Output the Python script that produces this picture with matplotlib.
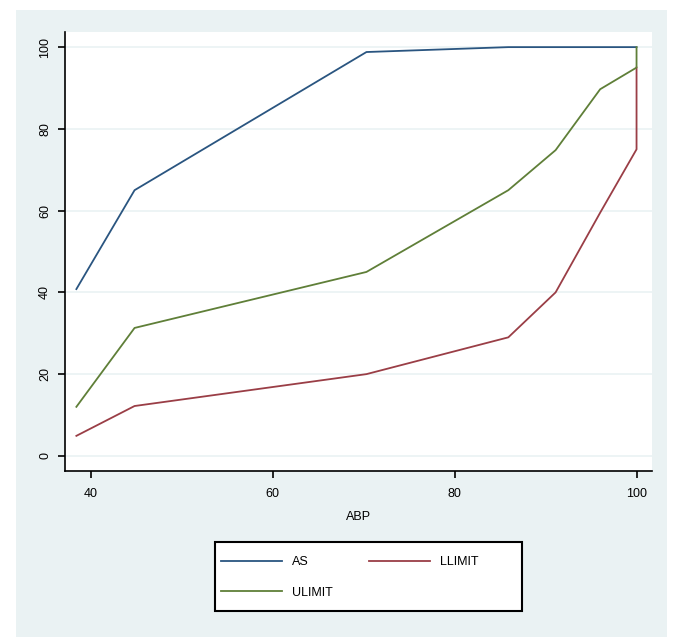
import matplotlib
matplotlib.use('Agg')
from matplotlib import pyplot
import matplotlib.patches as patches

pyplot.rcParams['font.family'] = ['Liberation Sans', 'DejaVu Sans']

# ABP values (x) and the three series
abp = [38.4, 44.8, 70.3, 85.9, 91.1, 96.0, 100, 100]
as_vals = [40.8, 65.0, 98.8, 100, 100, 100, 100, 100]
llimit = [4.9, 12.2, 20.0, 29.0, 40.0, 59.5, 75.0, 95.0]
ulimit = [12.0, 31.3, 45.0, 65.0, 74.8, 89.7, 95.0, 100]

x_ticks = [40, 60, 80, 100]
y_ticks = [0, 20, 40, 60, 80, 100]

bg = '#eaf2f3'
W, H = 673, 637
fig = pyplot.figure(figsize=(W/100, H/100), dpi=100)
fig.patch.set_facecolor('white')

# light panel behind the graph
back = fig.add_axes([16/W, 0, (667-16)/W, 1 - 10/H], zorder=-1)
back.set_facecolor(bg)
back.set_xticks([])
back.set_yticks([])
for s in back.spines.values():
    s.set_visible(False)

ax = fig.add_axes([65/W, 1 - 471/H, (652-65)/W, (471-32)/H], zorder=1)
ax.set_facecolor('white')

l_as, = ax.plot(abp, as_vals, color='#2a5580', linewidth=1.3, label='AS', zorder=3)
l_ll, = ax.plot(abp, llimit, color='#9a3e46', linewidth=1.3, label='LLIMIT', zorder=3)
l_ul, = ax.plot(abp, ulimit, color='#5f7f38', linewidth=1.3, label='ULIMIT', zorder=3)

ax.set_xlim(37.15, 101.7)
ax.set_ylim(-3.7, 103.7)
ax.set_xticks(x_ticks)
ax.set_yticks(y_ticks)
ax.grid(axis='y', color=bg, linewidth=1.2, zorder=1)
ax.set_axisbelow(True)

for s in ['top', 'right']:
    ax.spines[s].set_visible(False)
for s in ['left', 'bottom']:
    ax.spines[s].set_color('black')
    ax.spines[s].set_linewidth(1.2)

ax.tick_params(axis='both', direction='out', length=5, width=1.2, labelsize=9, colors='black')
ax.tick_params(axis='x', pad=7)
ax.tick_params(axis='y', pad=5)
pyplot.setp(ax.get_yticklabels(), rotation=90, va='center')

ax.set_xlabel('ABP', fontsize=9, labelpad=8)

# legend box drawn by hand so it can be wider than its entries
box = patches.Rectangle((215/W, 1 - 611/H), 307/W, 69/H, transform=fig.transFigure,
                        facecolor='white', edgecolor='black', linewidth=1.5, zorder=0.5)
fig.add_artist(box)

# legend fills column-wise: AS / ULIMIT in first column, LLIMIT in second
leg = ax.legend([l_as, l_ul, l_ll], ['AS', 'ULIMIT', 'LLIMIT'],
                loc='upper left', bbox_to_anchor=(221/W, 1 - 556/H),
                bbox_transform=fig.transFigure,
                borderaxespad=0, ncol=2, frameon=False, fontsize=9,
                handlelength=4.9, columnspacing=2.85, borderpad=0,
                labelspacing=1.5, handletextpad=0.8)

fig.savefig('out.png', dpi=100, facecolor=fig.get_facecolor())
